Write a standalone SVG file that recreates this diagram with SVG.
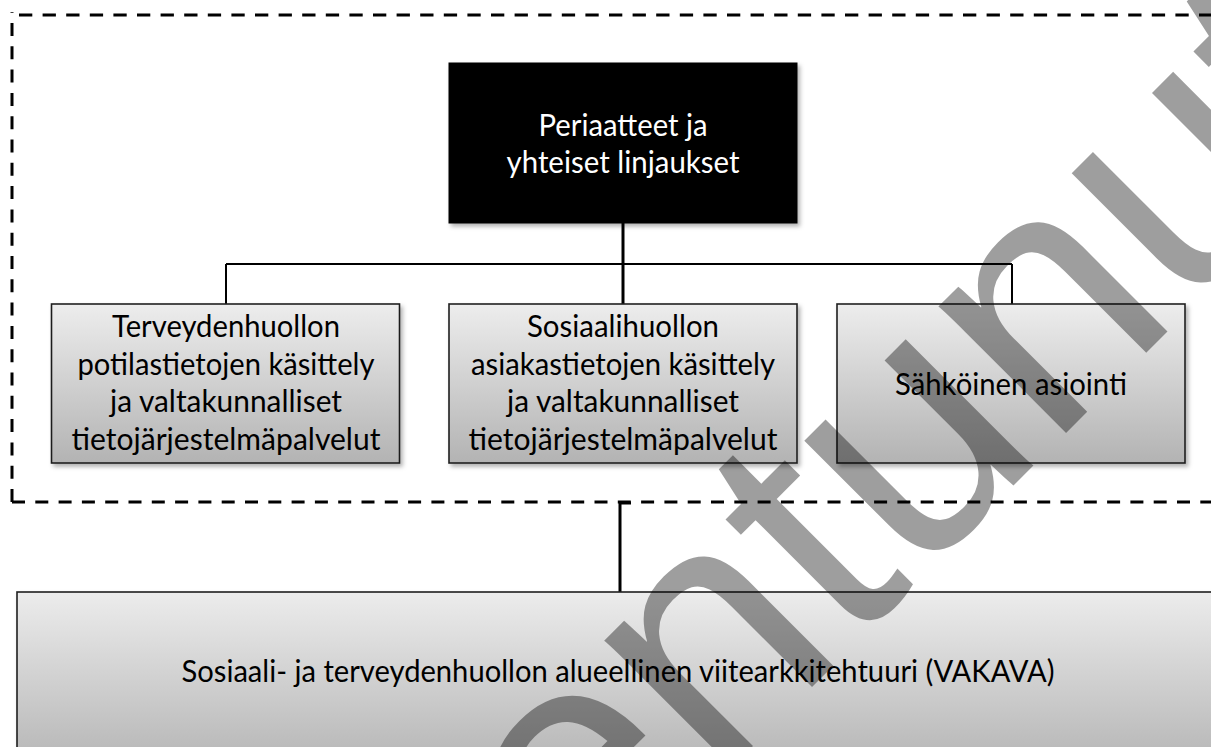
<svg xmlns="http://www.w3.org/2000/svg" width="1211" height="747" viewBox="0 0 1211 747">
  <defs>
    <linearGradient id="boxGrad" x1="0" y1="0" x2="0" y2="1">
      <stop offset="0" stop-color="#ededed"/>
      <stop offset="1" stop-color="#b3b3b3"/>
    </linearGradient>
    <linearGradient id="baseGrad" x1="0" y1="0" x2="0" y2="1">
      <stop offset="0" stop-color="#ececec"/>
      <stop offset="1" stop-color="#b8b8b8"/>
    </linearGradient>
    <filter id="shadow" x="-5%" y="-5%" width="115%" height="125%">
      <feDropShadow dx="2.5" dy="3" stdDeviation="2" flood-color="#000" flood-opacity="0.3"/>
    </filter>
  </defs>
  <style>
    .box { fill: url(#boxGrad); stroke: #1e1e1e; stroke-width: 1.6; filter: url(#shadow); }
    .head { fill: #000; stroke: #000; stroke-width: 1; filter: url(#shadow); }
    .lbl { font-family: Lato, "Liberation Sans", sans-serif; font-size: 31px; fill: #000; text-anchor: middle; }
    .lbl-w { fill: #fff; }
    .frame { stroke: #000; stroke-width: 3; fill: none; }
    .frame-top { stroke-dasharray: 13.3 10.3; }
    .frame-side { stroke-dasharray: 13 10.3; }
    .conn { stroke: #000; fill: none; }
    .wm { font-family: "Liberation Sans", Arial, sans-serif; font-size: 340px; fill: #000; fill-opacity: 0.38; font-kerning: none; }
  </style>

  <rect width="1211" height="747" fill="#fff"/>

  <!-- dashed boundary of the national layer -->
  <g id="boundary">
    <path class="frame frame-top" d="M19 15 H1225"/>
    <path class="frame frame-side" d="M12 502 V12"/>
    <path class="frame frame-side" d="M12 502 H1225"/>
  </g>

  <!-- connectors -->
  <g id="connectors">
    <path class="conn" stroke-width="3" d="M623 223 V304"/>
    <path class="conn" stroke-width="2" d="M226 264 H1012"/>
    <path class="conn" stroke-width="2" d="M226 264 V304"/>
    <path class="conn" stroke-width="2" d="M1012 264 V304"/>
    <path class="conn" stroke-width="3" d="M631 503 H620 V592"/>
  </g>

  <g id="principles">
    <rect class="head" x="449" y="63" width="348" height="160"/>
    <text class="lbl lbl-w" x="623" y="136" textLength="169" lengthAdjust="spacingAndGlyphs">Periaatteet ja</text>
    <text class="lbl lbl-w" x="623" y="173" textLength="233" lengthAdjust="spacingAndGlyphs">yhteiset linjaukset</text>
  </g>

  <g id="health-care">
    <rect class="box" x="51.5" y="304" width="348" height="159"/>
    <text class="lbl" x="226" y="337" textLength="228" lengthAdjust="spacingAndGlyphs">Terveydenhuollon</text>
    <text class="lbl" x="226" y="374.5" textLength="297" lengthAdjust="spacingAndGlyphs">potilastietojen käsittely</text>
    <text class="lbl" x="226" y="412" textLength="232" lengthAdjust="spacingAndGlyphs">ja valtakunnalliset</text>
    <text class="lbl" x="226" y="450" textLength="309" lengthAdjust="spacingAndGlyphs">tietojärjestelmäpalvelut</text>
  </g>

  <g id="social-care">
    <rect class="box" x="449" y="304" width="348" height="159"/>
    <text class="lbl" x="623" y="337" textLength="192" lengthAdjust="spacingAndGlyphs">Sosiaalihuollon</text>
    <text class="lbl" x="623" y="374.5" textLength="304" lengthAdjust="spacingAndGlyphs">asiakastietojen käsittely</text>
    <text class="lbl" x="623" y="412" textLength="232" lengthAdjust="spacingAndGlyphs">ja valtakunnalliset</text>
    <text class="lbl" x="623" y="450" textLength="309" lengthAdjust="spacingAndGlyphs">tietojärjestelmäpalvelut</text>
  </g>

  <g id="e-services">
    <rect class="box" x="837" y="304" width="348" height="159"/>
    <text class="lbl" x="1011" y="395" textLength="232" lengthAdjust="spacingAndGlyphs">Sähköinen asiointi</text>
  </g>

  <g id="regional-architecture">
    <rect class="box" x="17" y="592" width="1202" height="165" style="fill:url(#baseGrad)"/>
    <text class="lbl" x="618" y="682" textLength="873" lengthAdjust="spacingAndGlyphs">Sosiaali- ja terveydenhuollon alueellinen viitearkkitehtuuri (VAKAVA)</text>
  </g>

  <!-- translucent status stamp across the page -->
  <g id="stamp">
    <text class="wm" transform="translate(20 1479) rotate(-45)">Vanhentunut</text>
  </g>
</svg>
